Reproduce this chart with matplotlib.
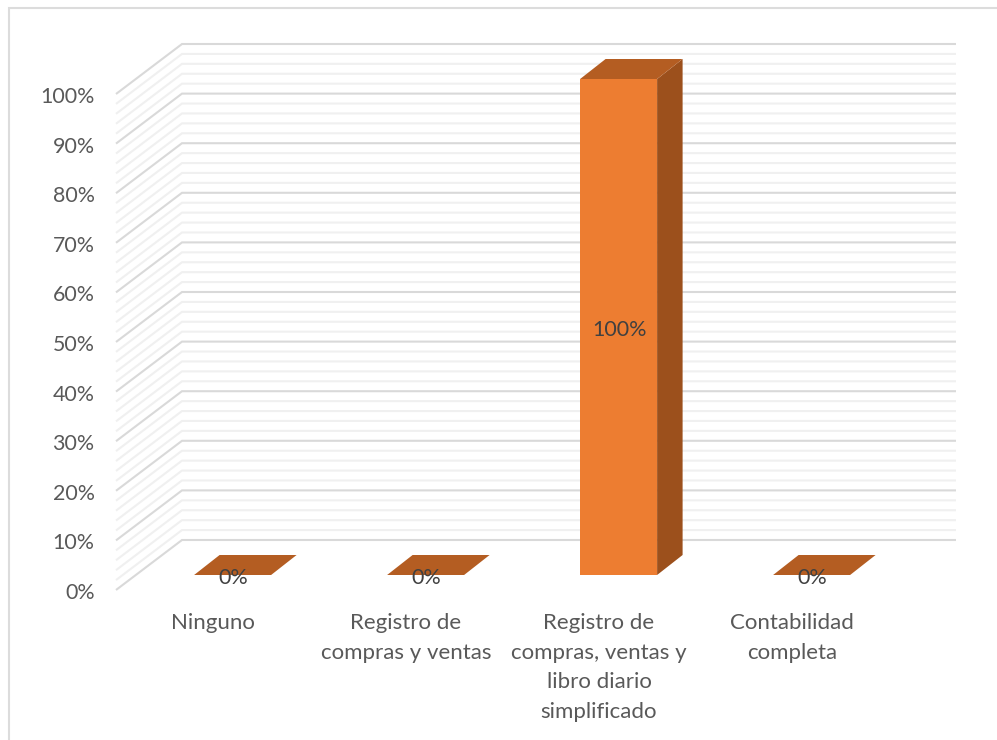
import matplotlib
matplotlib.use("Agg")
import matplotlib.pyplot as plt
from matplotlib.patches import Polygon

categories = ["Ninguno", "Registro de\ncompras y ventas",
              "Registro de\ncompras, ventas y\nlibro diario\nsimplificado",
              "Contabilidad\ncompleta"]
values = [0, 0, 100, 0]
y_ticks = [0, 10, 20, 30, 40, 50, 60, 70, 80, 90, 100]
minor_ticks = [v for v in range(0, 101, 2) if v % 10]

W, H = 997, 740
plt.rcParams['font.family'] = ['Lato', 'DejaVu Sans']
fig = plt.figure(figsize=(W / 100, H / 100), dpi=100)
ax = fig.add_axes([0, 0, 1, 1])
ax.axis("off")

# scales: front bar plane; 193 px per category, 4.96 px per percent
CX0, CSTEP, Y0, YSCALE = 232.6, 193, 575, 4.96
ax.set_xlim((0 - CX0) / CSTEP, (W - CX0) / CSTEP)
ax.set_ylim((Y0 - H) / YSCALE, Y0 / YSCALE)
ux = lambda px: px / CSTEP
uy = lambda px: px / YSCALE
xpx = lambda px: (px - CX0) / CSTEP
ypx = lambda px: (Y0 - px) / YSCALE

# wall geometry
front_x = xpx(116)
back_x = xpx(182)
right_x = xpx(956)
front_dy = uy(-15)
back_dy = uy(35)

# chart frame
ax.plot([xpx(9), xpx(9), xpx(W)], [ypx(H), ypx(8), ypx(8)],
        color="#dcdcdc", lw=1.5, zorder=1, solid_capstyle="butt",
        solid_joinstyle="miter")


def wall(v, color, lw, z):
    ax.plot([front_x, back_x, right_x],
            [v + front_dy, v + back_dy, v + back_dy],
            color=color, lw=lw, zorder=z, solid_joinstyle="miter",
            solid_capstyle="butt")


for v in minor_ticks:
    wall(v, "#f0f0f0", 1.5, 2)
for v in y_ticks:
    wall(v, "#d9d9d9", 1.5, 3)

# bars
half = ux(38.5)
dx, dy = ux(25.5), uy(20)
for i, v in enumerate(values):
    l, r = i - half, i + half
    if v > 0:
        ax.add_patch(Polygon([(r, 0), (r + dx, dy), (r + dx, v + dy), (r, v)],
                             fc="#9c501c", ec="none", zorder=5))
        ax.add_patch(Polygon([(l, 0), (r, 0), (r, v), (l, v)],
                             fc="#ed7d31", ec="none", zorder=6))
    ax.add_patch(Polygon([(l, v), (r, v), (r + dx, v + dy), (l + dx, v + dy)],
                         fc="#b45d22", ec="none", zorder=6))
    ax.text(i + ux(0.6), v / 2 - uy(3), f"{v}%", ha="center", va="center",
            fontsize=15.5, color="#404040", zorder=8)

# y tick labels
for v in y_ticks:
    ax.text(xpx(94.5), v + front_dy - uy(3), f"{v}%", ha="right", va="center",
            fontsize=15.4, color="#595959")

# category labels
label_x = [213, 406, 599, 792]
for px, c in zip(label_x, categories):
    ax.text(xpx(px), ypx(613), c, ha="center", va="top",
            fontsize=16, color="#595959", linespacing=1.6)

fig.savefig("out.png", dpi=100, facecolor="white")
